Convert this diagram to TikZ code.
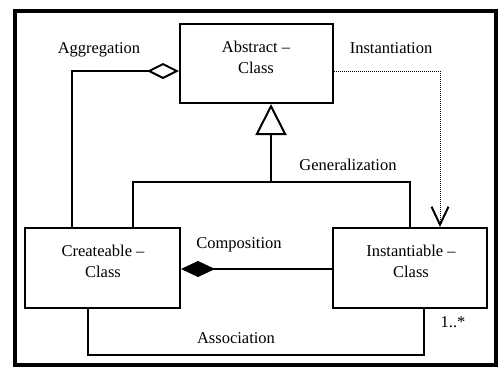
\documentclass[tikz,border=0pt]{standalone}
\usepackage{fontspec}
\setmainfont{Liberation Serif}
\usetikzlibrary{arrows.meta,calc}

\begin{document}
\begin{tikzpicture}[x=1pt,y=-1pt,
    font=\fontsize{16.5pt}{21pt}\selectfont,
    classbox/.style={draw, line width=2pt, inner sep=0pt},
    conn/.style={line width=2pt},
    lbl/.style={anchor=base, inner sep=0pt}]
      \useasboundingbox (0,0) rectangle (501,367);
      % outer frame
      \draw[line width=4pt] (15,11) rectangle (496,365);

      % the three classes
      \node[classbox, minimum width=153pt, minimum height=79pt] (abs) at (256.5,63.5) {};
      \node[classbox, minimum width=155pt, minimum height=80pt] (cre) at (102.5,268) {};
      \node[classbox, minimum width=154pt, minimum height=80pt] (inst) at (410,268) {};
      \node[align=center, inner sep=0pt] (abstxt) at (256,57) {Abstract --\\Class};
      \node[align=center, inner sep=0pt] (cretxt) at (103,261) {Createable --\\Class};
      \node[align=center, inner sep=0pt] (insttxt) at (411,261) {Instantiable --\\Class};

      % bend points of the connectors
      \coordinate (aggr) at (72,71);
      \coordinate (insx) at (440,71);
      \coordinate (gen) at (271,182);
      \coordinate (genl) at (133,182);
      \coordinate (genr) at (410,182);
      \coordinate (comp) at (0,269);
      \coordinate (asl) at (88,355);
      \coordinate (asr) at (424,355);

      % Aggregation
      \draw[conn, -{Diamond[open, length=32pt, width=16pt]}] (cre.north -| aggr) |- (abs.west |- aggr);
      \node[lbl] (aggrlbl) at (99,53) {Aggregation};

      % Instantiation
      \draw[line width=1pt, dash pattern=on 1pt off 1pt,
        -{Straight Barb[length=18pt, width=17pt, line width=2pt]}] (abs.east |- insx) -| (inst.north -| insx);
      \node[lbl] (inslbl) at (391,53) {Instantiation};

      % Generalization
      \draw[conn] (cre.north -| genl) -- (genl) -- (genr) -- (inst.north -| genr);
      \draw[conn, -{Triangle[open, length=31pt, width=31pt]}] (gen) -- (abs.south -| gen);
      \node[lbl] (genlbl) at (348,170) {Generalization};

      % Composition
      \draw[conn, -{Diamond[length=34pt, width=16pt]}] (inst.west |- comp) -- (cre.east |- comp);
      \node[lbl] (complbl) at (239,248) {Composition};

      % Association
      \draw[conn] (cre.south -| asl) -- (asl) -- (asr) -- (inst.south -| asr);
      \node[lbl] (asslbl) at (236,343) {Association};
      \node[lbl] (mult) at (453,327) {1..*};
\end{tikzpicture}
\end{document}
